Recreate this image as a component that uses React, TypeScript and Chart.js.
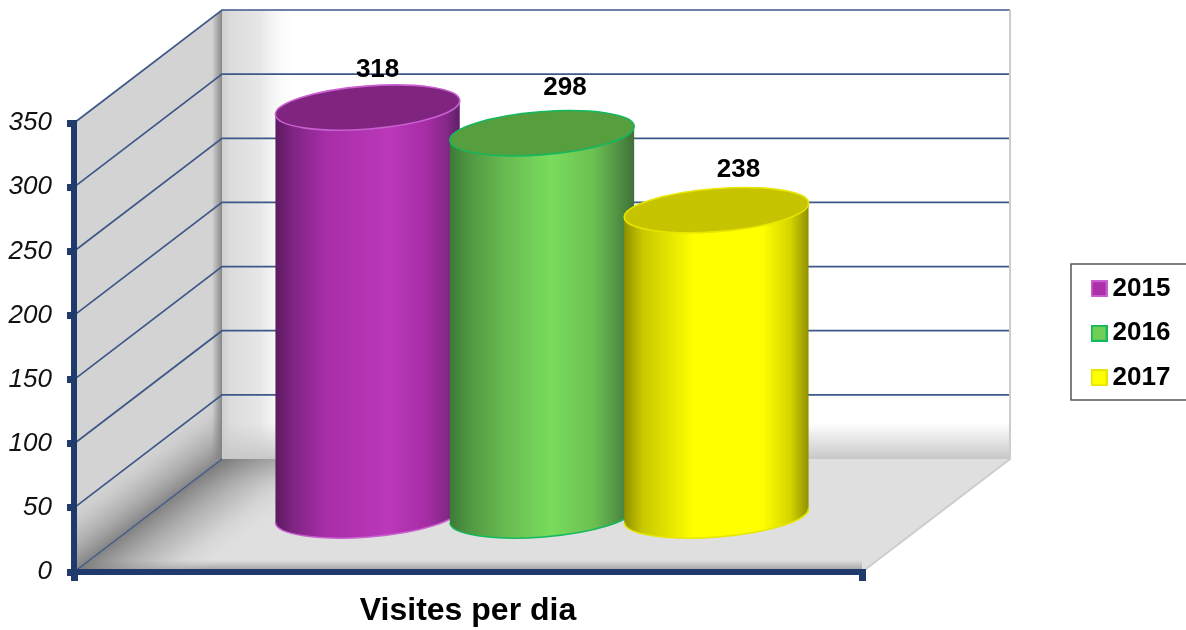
import React, { useEffect, useRef } from "react";
import { Chart, registerables } from "chart.js";

Chart.register(...registerables);

const CATEGORIES = ["Visites per dia"];
const YEARS = ["2015", "2016", "2017"];
const VISITS_2015 = [318];
const VISITS_2016 = [298];
const VISITS_2017 = [238];
const Y_MAX = 350;
const Y_STEP = 50;

const NAVY = "#1f3a6b";
const GRID = "#3d5888";
const DEPTH_X = 148;
const DEPTH_Y = 113;
const BAR_DEPTH = 0.5;
const LABEL_FONT = "bold 26px 'Liberation Sans', Arial, sans-serif";

const LOOKS = [
  {
    stops: [[0, "#5c1a60"], [0.1, "#7f2584"], [0.28, "#a82ea8"], [0.62, "#bb38ba"], [0.82, "#a52da4"], [0.93, "#832888"], [1, "#5f1f66"]],
    top: "#7f2580",
    edge: "#c95fd0",
    fill: "#ab30aa",
    nudge: [10, -38],
  },
  {
    stops: [[0, "#3c7a36"], [0.1, "#4f9642"], [0.3, "#68bb50"], [0.55, "#78dc5c"], [0.78, "#6cc052"], [0.92, "#4f8f42"], [1, "#3f7038"]],
    top: "#579e3e",
    edge: "#14b85e",
    fill: "#70cf57",
    nudge: [23, -45],
  },
  {
    stops: [[0, "#8f8f00"], [0.1, "#c8c800"], [0.38, "#ffff00"], [0.75, "#ffff00"], [0.9, "#d4d400"], [1, "#8f8f00"]],
    top: "#c6c400",
    edge: "#e6e600",
    fill: "#ffff00",
    nudge: [22, -40],
  },
];

function poly(ctx: CanvasRenderingContext2D, pts: number[][]) {
  ctx.beginPath();
  pts.forEach((p, i) => (i ? ctx.lineTo(p[0], p[1]) : ctx.moveTo(p[0], p[1])));
  ctx.closePath();
}

function linear(ctx: CanvasRenderingContext2D, x0: number, y0: number, x1: number, y1: number, stops: any[][]) {
  const g = ctx.createLinearGradient(x0, y0, x1, y1);
  stops.forEach((s) => g.addColorStop(s[0], s[1]));
  return g;
}

const scenePlugin = {
  id: "scene3d",
  afterLayout(chart: any) {
    const legend = chart.legend;
    legend.left = 1080;
    legend.right = 1186;
    legend.top = 257;
    legend.bottom = 630;
  },
  beforeDraw(chart: any) {
    const { ctx, chartArea, scales } = chart;
    const { left, right } = chartArea;
    const y = scales.y;
    const y0 = y.getPixelForValue(0);
    const yTop = y.getPixelForValue(Y_MAX);
    const bl = left + DEPTH_X;
    const br = right + DEPTH_X;
    const by0 = y0 - DEPTH_Y;
    const byT = yTop - DEPTH_Y;
    ctx.save();

    // back wall
    poly(ctx, [[bl, byT], [br, byT], [br, by0], [bl, by0]]);
    ctx.fillStyle = "#ffffff";
    ctx.fill();
    ctx.save();
    ctx.clip();
    ctx.fillStyle = linear(ctx, bl, 0, bl + 76, 0, [[0, "#cfcfcf"], [0.12, "#dcdcdc"], [0.5, "#e6e6e6"], [1, "rgba(255,255,255,0)"]]);
    ctx.fillRect(bl, byT, 76, by0 - byT);
    ctx.fillStyle = linear(ctx, 0, by0 - 36, 0, by0, [[0, "rgba(200,200,200,0)"], [1, "rgba(200,200,200,1)"]]);
    ctx.fillRect(bl, by0 - 36, br - bl, 36);
    ctx.restore();

    // floor
    const floor = [[left, y0], [right, y0], [br, by0], [bl, by0]];
    poly(ctx, floor);
    ctx.fillStyle = "#dfdfdf";
    ctx.fill();
    ctx.save();
    ctx.clip();
    ctx.fillStyle = linear(ctx, 0, by0, 0, by0 + 30, [[0, "rgba(160,160,160,0.7)"], [1, "rgba(200,200,200,0)"]]);
    ctx.fillRect(left, by0, bl + 130 - left, 30);
    ctx.fillStyle = linear(ctx, 0, y0 - 12, 0, y0, [[0, "rgba(150,150,150,0)"], [1, "rgba(140,140,140,0.9)"]]);
    ctx.fillRect(left, y0 - 12, right - left, 12);
    const mx = (left + bl) / 2;
    const my = (y0 + by0) / 2;
    ctx.fillStyle = linear(ctx, mx, my, mx + 48, my + 64, [[0, "rgba(112,112,112,0.85)"], [0.5, "rgba(165,165,165,0.5)"], [1, "rgba(223,223,223,0)"]]);
    ctx.fillRect(left, by0, 340, y0 - by0);
    ctx.restore();

    // side wall
    poly(ctx, [[left, y0], [bl, by0], [bl, byT], [left, yTop]]);
    ctx.fillStyle = "#d3d3d3";
    ctx.fill();
    ctx.save();
    ctx.clip();
    ctx.fillStyle = linear(ctx, mx, my, mx - 33, my - 44, [[0, "rgba(120,120,120,0.85)"], [0.55, "rgba(170,170,170,0.5)"], [1, "rgba(211,211,211,0)"]]);
    ctx.fillRect(left, byT, DEPTH_X, y0 - byT);
    ctx.fillStyle = linear(ctx, bl - 10, 0, bl, 0, [[0, "rgba(130,130,130,0)"], [1, "rgba(130,130,130,0.95)"]]);
    ctx.fillRect(bl - 10, byT, 10, by0 - byT);
    ctx.restore();

    // wall grid lines
    y.ticks.forEach((t: any) => {
      const py = y.getPixelForValue(t.value);
      ctx.beginPath();
      ctx.moveTo(left, py);
      ctx.lineTo(bl, py - DEPTH_Y);
      if (t.value !== 0) ctx.lineTo(br, py - DEPTH_Y);
      ctx.strokeStyle = GRID;
      ctx.lineWidth = t.value === 0 ? 1.2 : 1.7;
      ctx.stroke();
    });

    // pale outer edges
    ctx.beginPath();
    ctx.moveTo(br, byT);
    ctx.lineTo(br, by0);
    ctx.lineTo(right, y0);
    ctx.strokeStyle = "#cdcdcd";
    ctx.lineWidth = 2;
    ctx.stroke();

    // legend frame
    ctx.strokeStyle = "#555555";
    ctx.lineWidth = 1.5;
    ctx.strokeRect(1071, 264, 120, 136);
    ctx.restore();
  },
  beforeDatasetsDraw(chart: any) {
    const { ctx, scales } = chart;
    const tilt = (-4.5 * Math.PI) / 180;
    chart.data.datasets.forEach((ds: any, i: number) => {
      const bar = chart.getDatasetMeta(i).data[0];
      const look = LOOKS[i];
      const cx = bar.x + DEPTH_X * BAR_DEPTH;
      const rise = DEPTH_Y * BAR_DEPTH;
      const topY = bar.y - rise;
      const baseY = scales.y.getPixelForValue(0) - rise;
      const rx = bar.width * 0.53;
      const ry = 21.5;
      ctx.save();
      ctx.beginPath();
      ctx.ellipse(cx, baseY, rx, ry, tilt, 0, Math.PI, false);
      ctx.ellipse(cx, topY, rx, ry, tilt, Math.PI, Math.PI * 2, false);
      ctx.closePath();
      ctx.fillStyle = linear(ctx, cx - rx, 0, cx + rx, 0, look.stops);
      ctx.fill();
      ctx.beginPath();
      ctx.ellipse(cx, baseY, rx, ry, tilt, 0, Math.PI, false);
      ctx.strokeStyle = look.edge;
      ctx.lineWidth = 1.6;
      ctx.stroke();
      ctx.beginPath();
      ctx.ellipse(cx, topY, rx, ry, tilt, 0, Math.PI * 2);
      ctx.fillStyle = look.top;
      ctx.fill();
      ctx.stroke();
      ctx.font = LABEL_FONT;
      ctx.fillStyle = "#000000";
      ctx.textAlign = "center";
      ctx.textBaseline = "middle";
      ctx.fillText(String(ds.data[0]), cx + look.nudge[0], topY + look.nudge[1]);
      ctx.restore();
    });
  },
  beforeDatasetDraw() {
    return false;
  },
};

function swatch(fill: string, edge: string) {
  const c = document.createElement("canvas");
  c.width = 17;
  c.height = 17;
  const x = c.getContext("2d")!;
  x.fillStyle = fill;
  x.fillRect(1, 1, 15, 15);
  x.strokeStyle = edge;
  x.lineWidth = 2;
  x.strokeRect(1, 1, 15, 15);
  return c;
}

export default function App() {
  const ref = useRef<HTMLCanvasElement>(null);
  useEffect(() => {
    document.body.style.margin = "0";
    const series = [VISITS_2015, VISITS_2016, VISITS_2017];
    const chart = new Chart(ref.current!, {
      type: "bar",
      plugins: [scenePlugin],
      data: {
        labels: CATEGORIES,
        datasets: YEARS.map((year, i) => ({
          label: year,
          data: series[i],
          backgroundColor: LOOKS[i].fill,
          borderColor: LOOKS[i].edge,
          borderWidth: 2,
          categoryPercentage: 0.664,
          barPercentage: 1,
        })),
      },
      options: {
        responsive: false,
        animation: false,
        layout: { padding: { top: 123, right: 324, bottom: 0, left: 0 } },
        plugins: {
          tooltip: { enabled: false },
          legend: {
            position: "chartArea",
            fullSize: false,
            align: "start",
            labels: {
              usePointStyle: true,
              pointStyleWidth: 1,
              boxHeight: 16,
              padding: 18.6,
              color: "#000000",
              font: { family: "'Liberation Sans', Arial, sans-serif", size: 26, weight: "bold" },
              generateLabels: (c: any) =>
                Chart.defaults.plugins.legend.labels.generateLabels(c).map((item: any, i: number) => ({
                  ...item,
                  pointStyle: swatch(LOOKS[i].fill, LOOKS[i].edge),
                })),
            },
          },
        },
        scales: {
          x: {
            afterFit: (s: any) => {
              s.height = 58;
            },
            grid: { drawOnChartArea: false, color: NAVY, lineWidth: 7, tickLength: 9 },
            border: { display: true, color: NAVY, width: 6 },
            ticks: {
              color: "#000000",
              maxRotation: 0,
              padding: 11,
              font: { family: "'Liberation Sans', Arial, sans-serif", size: 32, weight: "bold" },
            },
          },
          y: {
            min: 0,
            max: Y_MAX,
            afterFit: (s: any) => {
              s.width = 74;
            },
            grid: { drawOnChartArea: false, color: NAVY, lineWidth: 7, tickLength: 7 },
            border: { display: true, color: NAVY, width: 6 },
            ticks: {
              stepSize: Y_STEP,
              color: "#111111",
              padding: 15,
              font: { family: "'Liberation Sans', Arial, sans-serif", size: 26, style: "italic" },
            },
          },
        },
      } as any,
    });
    return () => chart.destroy();
  }, []);
  return <canvas ref={ref} width={1186} height={630} style={{ display: "block" }} />;
}
